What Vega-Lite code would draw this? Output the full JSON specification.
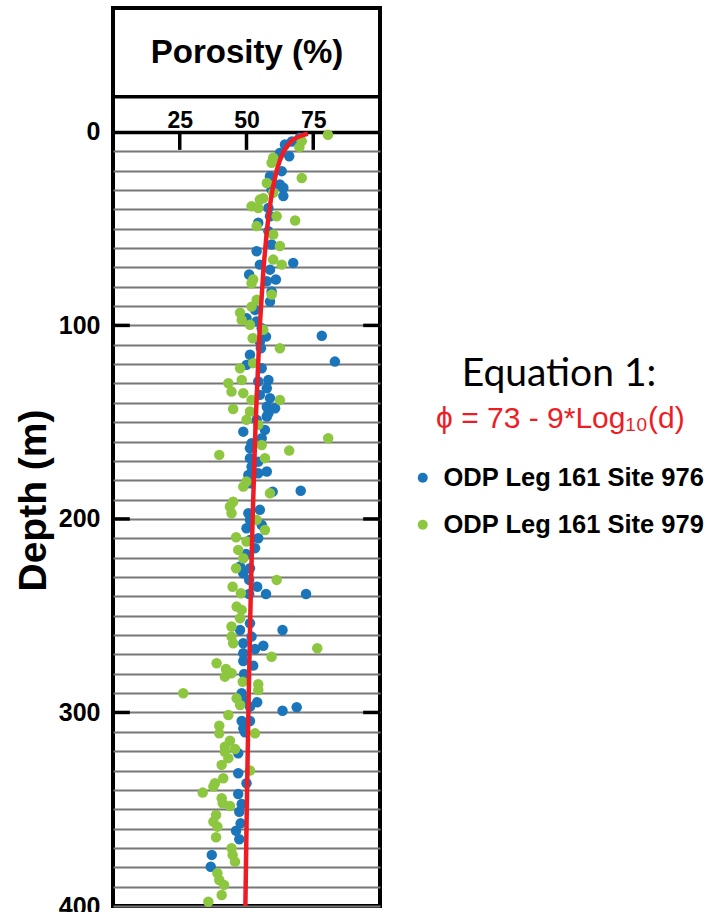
{
  "$schema": "https://vega.github.io/schema/vega-lite/v6.json",
  "width": 267,
  "height": 898,
  "autosize": {"type": "none"},
  "padding": {"left": 113, "top": 8, "right": 327, "bottom": 6},
  "background": "white",
  "config": {
    "view": {"stroke": "black", "strokeWidth": 4},
    "font": "Liberation Sans"
  },
  "datasets": {
    "pts": [
      {"site": "ODP Leg 161 Site 976", "por": 70, "depth": 3},
      {"site": "ODP Leg 161 Site 976", "por": 67, "depth": 5},
      {"site": "ODP Leg 161 Site 976", "por": 64.4, "depth": 6.5},
      {"site": "ODP Leg 161 Site 976", "por": 62.5, "depth": 10.9},
      {"site": "ODP Leg 161 Site 976", "por": 66, "depth": 12.6},
      {"site": "ODP Leg 161 Site 976", "por": 63.2, "depth": 20.3},
      {"site": "ODP Leg 161 Site 976", "por": 58.8, "depth": 22.9},
      {"site": "ODP Leg 161 Site 976", "por": 62.5, "depth": 27.2},
      {"site": "ODP Leg 161 Site 976", "por": 63.8, "depth": 28.9},
      {"site": "ODP Leg 161 Site 976", "por": 59.4, "depth": 29.8},
      {"site": "ODP Leg 161 Site 976", "por": 63.8, "depth": 33.2},
      {"site": "ODP Leg 161 Site 976", "por": 58.2, "depth": 39.3},
      {"site": "ODP Leg 161 Site 976", "por": 58.8, "depth": 43.6},
      {"site": "ODP Leg 161 Site 976", "por": 54.4, "depth": 47},
      {"site": "ODP Leg 161 Site 976", "por": 58.2, "depth": 51.3},
      {"site": "ODP Leg 161 Site 976", "por": 59.4, "depth": 58.2},
      {"site": "ODP Leg 161 Site 976", "por": 53.8, "depth": 61.7},
      {"site": "ODP Leg 161 Site 976", "por": 67.5, "depth": 67.7},
      {"site": "ODP Leg 161 Site 976", "por": 55, "depth": 68.6},
      {"site": "ODP Leg 161 Site 976", "por": 58.8, "depth": 71.2},
      {"site": "ODP Leg 161 Site 976", "por": 51, "depth": 73.7},
      {"site": "ODP Leg 161 Site 976", "por": 61, "depth": 76.3},
      {"site": "ODP Leg 161 Site 976", "por": 57.6, "depth": 77.2},
      {"site": "ODP Leg 161 Site 976", "por": 59.4, "depth": 82.5},
      {"site": "ODP Leg 161 Site 976", "por": 58.8, "depth": 87.7},
      {"site": "ODP Leg 161 Site 976", "por": 53.2, "depth": 92},
      {"site": "ODP Leg 161 Site 976", "por": 50, "depth": 96.3},
      {"site": "ODP Leg 161 Site 976", "por": 53.8, "depth": 98},
      {"site": "ODP Leg 161 Site 976", "por": 55.7, "depth": 101.5},
      {"site": "ODP Leg 161 Site 976", "por": 78.2, "depth": 105.4},
      {"site": "ODP Leg 161 Site 976", "por": 57.3, "depth": 105.8},
      {"site": "ODP Leg 161 Site 976", "por": 55, "depth": 108.4},
      {"site": "ODP Leg 161 Site 976", "por": 55.4, "depth": 111.8},
      {"site": "ODP Leg 161 Site 976", "por": 51.3, "depth": 115.2},
      {"site": "ODP Leg 161 Site 976", "por": 83.1, "depth": 118.7},
      {"site": "ODP Leg 161 Site 976", "por": 50, "depth": 120.4},
      {"site": "ODP Leg 161 Site 976", "por": 55.7, "depth": 122.1},
      {"site": "ODP Leg 161 Site 976", "por": 58.2, "depth": 128.2},
      {"site": "ODP Leg 161 Site 976", "por": 54.4, "depth": 129},
      {"site": "ODP Leg 161 Site 976", "por": 57.6, "depth": 132.5},
      {"site": "ODP Leg 161 Site 976", "por": 55, "depth": 135.9},
      {"site": "ODP Leg 161 Site 976", "por": 58.8, "depth": 137.6},
      {"site": "ODP Leg 161 Site 976", "por": 57.6, "depth": 142},
      {"site": "ODP Leg 161 Site 976", "por": 60.7, "depth": 142.8},
      {"site": "ODP Leg 161 Site 976", "por": 58.2, "depth": 145.4},
      {"site": "ODP Leg 161 Site 976", "por": 57.6, "depth": 147.1},
      {"site": "ODP Leg 161 Site 976", "por": 53.8, "depth": 148.8},
      {"site": "ODP Leg 161 Site 976", "por": 56.9, "depth": 154},
      {"site": "ODP Leg 161 Site 976", "por": 48.8, "depth": 154.9},
      {"site": "ODP Leg 161 Site 976", "por": 55.7, "depth": 158.3},
      {"site": "ODP Leg 161 Site 976", "por": 51.9, "depth": 160.9},
      {"site": "ODP Leg 161 Site 976", "por": 51.3, "depth": 163.5},
      {"site": "ODP Leg 161 Site 976", "por": 51.3, "depth": 168.6},
      {"site": "ODP Leg 161 Site 976", "por": 54.4, "depth": 170.4},
      {"site": "ODP Leg 161 Site 976", "por": 51.9, "depth": 173},
      {"site": "ODP Leg 161 Site 976", "por": 57.6, "depth": 175.5},
      {"site": "ODP Leg 161 Site 976", "por": 54.4, "depth": 176.4},
      {"site": "ODP Leg 161 Site 976", "por": 50.7, "depth": 177.3},
      {"site": "ODP Leg 161 Site 976", "por": 51.3, "depth": 181.6},
      {"site": "ODP Leg 161 Site 976", "por": 70.3, "depth": 185.4},
      {"site": "ODP Leg 161 Site 976", "por": 59.8, "depth": 185.9},
      {"site": "ODP Leg 161 Site 976", "por": 55, "depth": 195.3},
      {"site": "ODP Leg 161 Site 976", "por": 50.7, "depth": 197.1},
      {"site": "ODP Leg 161 Site 976", "por": 51.3, "depth": 200.5},
      {"site": "ODP Leg 161 Site 976", "por": 55.7, "depth": 203.1},
      {"site": "ODP Leg 161 Site 976", "por": 50, "depth": 204.8},
      {"site": "ODP Leg 161 Site 976", "por": 54.4, "depth": 210},
      {"site": "ODP Leg 161 Site 976", "por": 51.3, "depth": 210.9},
      {"site": "ODP Leg 161 Site 976", "por": 53.2, "depth": 215.1},
      {"site": "ODP Leg 161 Site 976", "por": 49.8, "depth": 218.1},
      {"site": "ODP Leg 161 Site 976", "por": 47.6, "depth": 224.6},
      {"site": "ODP Leg 161 Site 976", "por": 51.3, "depth": 225.5},
      {"site": "ODP Leg 161 Site 976", "por": 48.8, "depth": 228.1},
      {"site": "ODP Leg 161 Site 976", "por": 51, "depth": 231.5},
      {"site": "ODP Leg 161 Site 976", "por": 54, "depth": 235},
      {"site": "ODP Leg 161 Site 976", "por": 51, "depth": 238.8},
      {"site": "ODP Leg 161 Site 976", "por": 57.3, "depth": 238.8},
      {"site": "ODP Leg 161 Site 976", "por": 72.3, "depth": 238.8},
      {"site": "ODP Leg 161 Site 976", "por": 51.3, "depth": 253.9},
      {"site": "ODP Leg 161 Site 976", "por": 47.6, "depth": 257.4},
      {"site": "ODP Leg 161 Site 976", "por": 63.5, "depth": 257.4},
      {"site": "ODP Leg 161 Site 976", "por": 51.9, "depth": 260.8},
      {"site": "ODP Leg 161 Site 976", "por": 48.8, "depth": 264.2},
      {"site": "ODP Leg 161 Site 976", "por": 56.3, "depth": 265.5},
      {"site": "ODP Leg 161 Site 976", "por": 53.2, "depth": 267.2},
      {"site": "ODP Leg 161 Site 976", "por": 48.8, "depth": 269.4},
      {"site": "ODP Leg 161 Site 976", "por": 48.8, "depth": 273.4},
      {"site": "ODP Leg 161 Site 976", "por": 52.5, "depth": 275.8},
      {"site": "ODP Leg 161 Site 976", "por": 49.1, "depth": 280.1},
      {"site": "ODP Leg 161 Site 976", "por": 48.2, "depth": 290.1},
      {"site": "ODP Leg 161 Site 976", "por": 49.1, "depth": 293.5},
      {"site": "ODP Leg 161 Site 976", "por": 54, "depth": 294.7},
      {"site": "ODP Leg 161 Site 976", "por": 51.3, "depth": 297},
      {"site": "ODP Leg 161 Site 976", "por": 68.8, "depth": 297.3},
      {"site": "ODP Leg 161 Site 976", "por": 63.5, "depth": 299.1},
      {"site": "ODP Leg 161 Site 976", "por": 48.2, "depth": 304.4},
      {"site": "ODP Leg 161 Site 976", "por": 51.3, "depth": 304.4},
      {"site": "ODP Leg 161 Site 976", "por": 48.8, "depth": 308.2},
      {"site": "ODP Leg 161 Site 976", "por": 49.4, "depth": 310.2},
      {"site": "ODP Leg 161 Site 976", "por": 46.9, "depth": 321.1},
      {"site": "ODP Leg 161 Site 976", "por": 46.9, "depth": 331.4},
      {"site": "ODP Leg 161 Site 976", "por": 50, "depth": 336.6},
      {"site": "ODP Leg 161 Site 976", "por": 46.9, "depth": 342.1},
      {"site": "ODP Leg 161 Site 976", "por": 48.2, "depth": 347.3},
      {"site": "ODP Leg 161 Site 976", "por": 47.3, "depth": 351.3},
      {"site": "ODP Leg 161 Site 976", "por": 47.8, "depth": 357.3},
      {"site": "ODP Leg 161 Site 976", "por": 46.1, "depth": 361.1},
      {"site": "ODP Leg 161 Site 976", "por": 47.3, "depth": 365.5},
      {"site": "ODP Leg 161 Site 976", "por": 37, "depth": 373.6},
      {"site": "ODP Leg 161 Site 976", "por": 36.6, "depth": 379.7},
      {"site": "ODP Leg 161 Site 979", "por": 80.5, "depth": 1.5},
      {"site": "ODP Leg 161 Site 979", "por": 70.7, "depth": 4.8},
      {"site": "ODP Leg 161 Site 979", "por": 69.8, "depth": 7.9},
      {"site": "ODP Leg 161 Site 979", "por": 60, "depth": 13.4},
      {"site": "ODP Leg 161 Site 979", "por": 59.4, "depth": 16},
      {"site": "ODP Leg 161 Site 979", "por": 70.7, "depth": 23.8},
      {"site": "ODP Leg 161 Site 979", "por": 57.6, "depth": 26.4},
      {"site": "ODP Leg 161 Site 979", "por": 60, "depth": 31.5},
      {"site": "ODP Leg 161 Site 979", "por": 56.3, "depth": 34.3},
      {"site": "ODP Leg 161 Site 979", "por": 55, "depth": 35},
      {"site": "ODP Leg 161 Site 979", "por": 51.9, "depth": 38.4},
      {"site": "ODP Leg 161 Site 979", "por": 54.4, "depth": 39.3},
      {"site": "ODP Leg 161 Site 979", "por": 61.3, "depth": 43.6},
      {"site": "ODP Leg 161 Site 979", "por": 68.2, "depth": 45.8},
      {"site": "ODP Leg 161 Site 979", "por": 53.8, "depth": 48.7},
      {"site": "ODP Leg 161 Site 979", "por": 60, "depth": 53},
      {"site": "ODP Leg 161 Site 979", "por": 62.5, "depth": 59},
      {"site": "ODP Leg 161 Site 979", "por": 60, "depth": 66},
      {"site": "ODP Leg 161 Site 979", "por": 63.2, "depth": 68.6},
      {"site": "ODP Leg 161 Site 979", "por": 52.5, "depth": 76.3},
      {"site": "ODP Leg 161 Site 979", "por": 51.9, "depth": 78.2},
      {"site": "ODP Leg 161 Site 979", "por": 59.4, "depth": 84},
      {"site": "ODP Leg 161 Site 979", "por": 53.8, "depth": 86.8},
      {"site": "ODP Leg 161 Site 979", "por": 51.9, "depth": 90.3},
      {"site": "ODP Leg 161 Site 979", "por": 47.6, "depth": 93.4},
      {"site": "ODP Leg 161 Site 979", "por": 48.2, "depth": 97.2},
      {"site": "ODP Leg 161 Site 979", "por": 51.3, "depth": 99.7},
      {"site": "ODP Leg 161 Site 979", "por": 56.3, "depth": 102.3},
      {"site": "ODP Leg 161 Site 979", "por": 52.3, "depth": 106.6},
      {"site": "ODP Leg 161 Site 979", "por": 62.5, "depth": 111.8},
      {"site": "ODP Leg 161 Site 979", "por": 52.5, "depth": 119.5},
      {"site": "ODP Leg 161 Site 979", "por": 47.6, "depth": 122.1},
      {"site": "ODP Leg 161 Site 979", "por": 48.2, "depth": 128.2},
      {"site": "ODP Leg 161 Site 979", "por": 43.2, "depth": 129.9},
      {"site": "ODP Leg 161 Site 979", "por": 44.4, "depth": 134.2},
      {"site": "ODP Leg 161 Site 979", "por": 48.8, "depth": 135},
      {"site": "ODP Leg 161 Site 979", "por": 62.5, "depth": 138.5},
      {"site": "ODP Leg 161 Site 979", "por": 51.9, "depth": 138.5},
      {"site": "ODP Leg 161 Site 979", "por": 45, "depth": 143.2},
      {"site": "ODP Leg 161 Site 979", "por": 51.3, "depth": 144.5},
      {"site": "ODP Leg 161 Site 979", "por": 50, "depth": 148.8},
      {"site": "ODP Leg 161 Site 979", "por": 54.4, "depth": 151.4},
      {"site": "ODP Leg 161 Site 979", "por": 80.6, "depth": 158.3},
      {"site": "ODP Leg 161 Site 979", "por": 55.7, "depth": 161.8},
      {"site": "ODP Leg 161 Site 979", "por": 66, "depth": 164.7},
      {"site": "ODP Leg 161 Site 979", "por": 39.8, "depth": 166.9},
      {"site": "ODP Leg 161 Site 979", "por": 56.9, "depth": 168.6},
      {"site": "ODP Leg 161 Site 979", "por": 50, "depth": 180.7},
      {"site": "ODP Leg 161 Site 979", "por": 48.8, "depth": 183.3},
      {"site": "ODP Leg 161 Site 979", "por": 58.8, "depth": 186.7},
      {"site": "ODP Leg 161 Site 979", "por": 45, "depth": 191.1},
      {"site": "ODP Leg 161 Site 979", "por": 43.8, "depth": 193.6},
      {"site": "ODP Leg 161 Site 979", "por": 44.4, "depth": 197.1},
      {"site": "ODP Leg 161 Site 979", "por": 53.8, "depth": 200.5},
      {"site": "ODP Leg 161 Site 979", "por": 56.9, "depth": 205.7},
      {"site": "ODP Leg 161 Site 979", "por": 46.1, "depth": 209.5},
      {"site": "ODP Leg 161 Site 979", "por": 50, "depth": 211.7},
      {"site": "ODP Leg 161 Site 979", "por": 46.9, "depth": 216},
      {"site": "ODP Leg 161 Site 979", "por": 48.8, "depth": 220.3},
      {"site": "ODP Leg 161 Site 979", "por": 46.1, "depth": 225.5},
      {"site": "ODP Leg 161 Site 979", "por": 61.3, "depth": 231.5},
      {"site": "ODP Leg 161 Site 979", "por": 44.8, "depth": 235},
      {"site": "ODP Leg 161 Site 979", "por": 47.9, "depth": 238.4},
      {"site": "ODP Leg 161 Site 979", "por": 46.3, "depth": 245.3},
      {"site": "ODP Leg 161 Site 979", "por": 48.2, "depth": 247},
      {"site": "ODP Leg 161 Site 979", "por": 47.6, "depth": 251.3},
      {"site": "ODP Leg 161 Site 979", "por": 44.4, "depth": 255.6},
      {"site": "ODP Leg 161 Site 979", "por": 44.4, "depth": 260.8},
      {"site": "ODP Leg 161 Site 979", "por": 45, "depth": 264.2},
      {"site": "ODP Leg 161 Site 979", "por": 76.5, "depth": 266.8},
      {"site": "ODP Leg 161 Site 979", "por": 59.4, "depth": 271.2},
      {"site": "ODP Leg 161 Site 979", "por": 38.8, "depth": 274.6},
      {"site": "ODP Leg 161 Site 979", "por": 42.3, "depth": 277.5},
      {"site": "ODP Leg 161 Site 979", "por": 44.4, "depth": 279.7},
      {"site": "ODP Leg 161 Site 979", "por": 41.9, "depth": 281.5},
      {"site": "ODP Leg 161 Site 979", "por": 48.6, "depth": 284.1},
      {"site": "ODP Leg 161 Site 979", "por": 54.4, "depth": 285.4},
      {"site": "ODP Leg 161 Site 979", "por": 54.4, "depth": 288.4},
      {"site": "ODP Leg 161 Site 979", "por": 26.3, "depth": 290.1},
      {"site": "ODP Leg 161 Site 979", "por": 46.3, "depth": 292.7},
      {"site": "ODP Leg 161 Site 979", "por": 47.6, "depth": 296.1},
      {"site": "ODP Leg 161 Site 979", "por": 43.2, "depth": 301.3},
      {"site": "ODP Leg 161 Site 979", "por": 39.8, "depth": 306.8},
      {"site": "ODP Leg 161 Site 979", "por": 39.8, "depth": 310.8},
      {"site": "ODP Leg 161 Site 979", "por": 53.2, "depth": 310.8},
      {"site": "ODP Leg 161 Site 979", "por": 43.8, "depth": 314.6},
      {"site": "ODP Leg 161 Site 979", "por": 41.9, "depth": 317.7},
      {"site": "ODP Leg 161 Site 979", "por": 45.7, "depth": 318.9},
      {"site": "ODP Leg 161 Site 979", "por": 41.9, "depth": 320.3},
      {"site": "ODP Leg 161 Site 979", "por": 43.2, "depth": 323.6},
      {"site": "ODP Leg 161 Site 979", "por": 40.7, "depth": 327.1},
      {"site": "ODP Leg 161 Site 979", "por": 51.3, "depth": 330},
      {"site": "ODP Leg 161 Site 979", "por": 41.3, "depth": 334},
      {"site": "ODP Leg 161 Site 979", "por": 38.2, "depth": 336.6},
      {"site": "ODP Leg 161 Site 979", "por": 37.6, "depth": 338.3},
      {"site": "ODP Leg 161 Site 979", "por": 33.6, "depth": 341.4},
      {"site": "ODP Leg 161 Site 979", "por": 40.7, "depth": 344.3},
      {"site": "ODP Leg 161 Site 979", "por": 41.1, "depth": 346.9},
      {"site": "ODP Leg 161 Site 979", "por": 43.8, "depth": 348.3},
      {"site": "ODP Leg 161 Site 979", "por": 38.6, "depth": 353},
      {"site": "ODP Leg 161 Site 979", "por": 37.6, "depth": 356.4},
      {"site": "ODP Leg 161 Site 979", "por": 39.1, "depth": 359},
      {"site": "ODP Leg 161 Site 979", "por": 38.6, "depth": 364.5},
      {"site": "ODP Leg 161 Site 979", "por": 44.4, "depth": 370.2},
      {"site": "ODP Leg 161 Site 979", "por": 44.8, "depth": 373.6},
      {"site": "ODP Leg 161 Site 979", "por": 45.7, "depth": 377.1},
      {"site": "ODP Leg 161 Site 979", "por": 39.1, "depth": 383.1},
      {"site": "ODP Leg 161 Site 979", "por": 39.8, "depth": 386.6},
      {"site": "ODP Leg 161 Site 979", "por": 41.6, "depth": 389.1},
      {"site": "ODP Leg 161 Site 979", "por": 40.7, "depth": 394.3},
      {"site": "ODP Leg 161 Site 979", "por": 35.7, "depth": 397.8}
    ],
    "curve": [
      {"depth": 1, "phi": 73},
      {"depth": 1.5, "phi": 71.42},
      {"depth": 2, "phi": 70.29},
      {"depth": 3, "phi": 68.71},
      {"depth": 4, "phi": 67.58},
      {"depth": 5, "phi": 66.71},
      {"depth": 7, "phi": 65.39},
      {"depth": 10, "phi": 64},
      {"depth": 15, "phi": 62.42},
      {"depth": 20, "phi": 61.29},
      {"depth": 30, "phi": 59.71},
      {"depth": 40, "phi": 58.58},
      {"depth": 50, "phi": 57.71},
      {"depth": 70, "phi": 56.39},
      {"depth": 100, "phi": 55},
      {"depth": 150, "phi": 53.42},
      {"depth": 200, "phi": 52.29},
      {"depth": 250, "phi": 51.42},
      {"depth": 300, "phi": 50.71},
      {"depth": 350, "phi": 50.1},
      {"depth": 400, "phi": 49.58}
    ],
    "xt": [{"p": 25}, {"p": 50}, {"p": 75}],
    "yt": [{"d": 100}, {"d": 200}, {"d": 300}]
  },
  "layer": [
    {
      "data": {"name": "pts"},
      "mark": {"type": "circle", "size": 110, "opacity": 1},
      "encoding": {
        "x": {
          "field": "por", "type": "quantitative",
          "scale": {"domain": [0, 100], "nice": false, "zero": false},
          "axis": {
            "orient": "top", "offset": -124, "values": [25, 50, 75], "tickCount": 10,
            "domain": true, "domainColor": "black", "domainWidth": 3.5,
            "ticks": false, "tickSize": 0, "grid": false,
            "labelPadding": 5, "labelBaseline": "alphabetic",
            "labelFont": "Liberation Sans", "labelFontWeight": "bold", "labelFontSize": 23, "labelColor": "black",
            "title": "Porosity (%)", "titleFont": "Liberation Sans", "titleFontWeight": "bold", "titleFontSize": 33,
            "titleColor": "black", "titleY": -80, "titleX": 133.5, "titleBaseline": "middle", "titleAlign": "center"
          }
        },
        "y": {
          "field": "depth", "type": "quantitative",
          "scale": {"domain": [-64, 400], "nice": false, "zero": false, "reverse": true},
          "axis": {
            "values": [0, 10, 20, 30, 40, 50, 60, 70, 80, 90, 100, 110, 120, 130, 140, 150, 160, 170, 180, 190, 200, 210, 220, 230, 240, 250, 260, 270, 280, 290, 300, 310, 320, 330, 340, 350, 360, 370, 380, 390, 400],
            "tickCount": 100,
            "labelExpr": "datum.value % 100 === 0 ? datum.label : ''",
            "labelOverlap": false, "labelFlush": false,
            "grid": true, "gridColor": "#777777", "gridWidth": 1.8,
            "domain": false, "ticks": false, "tickSize": 0, "labelPadding": 13,
            "labelBaseline": "middle",
            "labelFont": "Liberation Sans", "labelFontWeight": "bold", "labelFontSize": 25, "labelColor": "black",
            "title": "Depth (m)", "titleFont": "Liberation Sans", "titleFontWeight": "bold", "titleFontSize": 39,
            "titleColor": "black", "titleX": -80, "titleY": 492, "titleAngle": 270, "titleAlign": "center", "titleBaseline": "middle"
          }
        },
        "color": {
          "field": "site", "type": "nominal",
          "scale": {"domain": ["ODP Leg 161 Site 976", "ODP Leg 161 Site 979"], "range": ["#1b75bb", "#8dc63f"]},
          "legend": {
            "orient": "none", "legendX": 297, "legendY": 457, "title": null, "padding": 0,
            "labelFont": "Liberation Sans", "labelFontWeight": "bold", "labelFontSize": 25.5, "labelColor": "black",
            "labelLimit": 500,
            "symbolType": "circle", "symbolSize": 100, "symbolStrokeWidth": 0, "symbolOpacity": 1,
            "rowPadding": 20, "labelOffset": 8
          }
        }
      }
    },
    {
      "data": {"name": "curve"},
      "mark": {"type": "line", "strokeWidth": 4.5},
      "encoding": {
        "x": {"field": "phi", "type": "quantitative"},
        "y": {"field": "depth", "type": "quantitative"},
        "order": {"field": "depth", "type": "quantitative"},
        "stroke": {
          "datum": "ϕ = 73 - 9*Log₁₀(d)",
          "scale": {"range": ["#ee1c25"]},
          "legend": {
            "orient": "none", "legendX": 320, "legendY": 347, "padding": 0,
            "title": "Equation 1:", "titleFont": "Lato", "titleFontWeight": "normal", "titleFontSize": 39,
            "titleColor": "black", "titleAnchor": "middle", "titlePadding": 10, "titleLimit": 600,
            "labelFont": "Liberation Sans", "labelFontSize": 30, "labelColor": "#ee1c25", "labelLimit": 600,
            "symbolSize": 0, "symbolStrokeWidth": 0, "symbolOpacity": 0, "labelOffset": -27
          }
        }
      }
    },
    {
      "data": {"name": "xt"},
      "mark": {"type": "rule", "color": "black", "strokeWidth": 3.5},
      "encoding": {
        "x": {"field": "p", "type": "quantitative"},
        "y": {"datum": 0},
        "y2": {"datum": 9.3}
      }
    },
    {
      "data": {"name": "yt"},
      "mark": {"type": "rule", "color": "black", "strokeWidth": 3.5},
      "encoding": {
        "y": {"field": "d", "type": "quantitative"},
        "x": {"datum": 0},
        "x2": {"datum": 6.3}
      }
    },
    {
      "data": {"name": "yt"},
      "mark": {"type": "rule", "color": "black", "strokeWidth": 3.5},
      "encoding": {
        "y": {"field": "d", "type": "quantitative"},
        "x": {"datum": 93.7},
        "x2": {"datum": 100}
      }
    },
    {
      "data": {"values": [{"h": -18.1}]},
      "mark": {"type": "rule", "color": "black", "strokeWidth": 3.5},
      "encoding": {
        "y": {"field": "h", "type": "quantitative"}
      }
    }
  ]
}
